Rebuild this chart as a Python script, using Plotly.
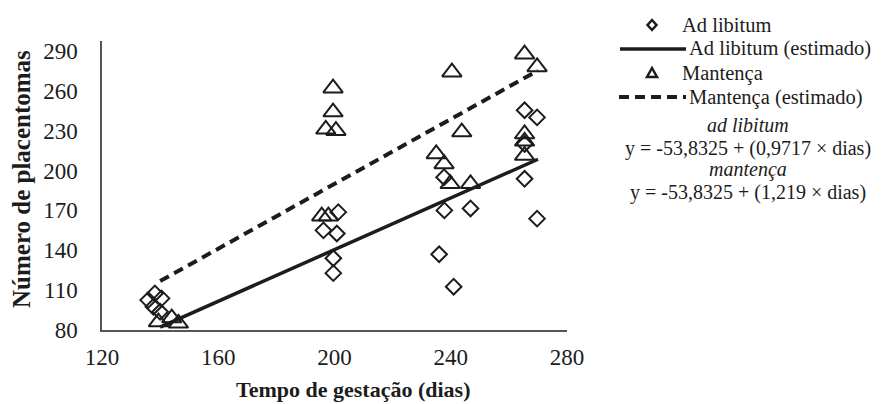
import plotly.graph_objects as go

# ---- data ----
adlib_dias = [138.2, 140.5, 135.9, 137.7, 140.0,
              201.3, 196.2, 200.8, 199.6, 199.6,
              237.7, 237.8, 246.8, 236.0, 241.0,
              265.4, 269.7, 265.4, 265.4, 269.7]
adlib_plac = [107.5, 103.8, 102.5, 97.5, 93.7,
              168.7, 155.0, 152.6, 134.0, 122.8,
              195.0, 170.0, 171.5, 137.0, 112.6,
              245.4, 240.0, 220.0, 193.8, 163.8]

mant_dias = [139.4, 144.0, 146.3,
             199.5, 199.5, 197.0, 200.5, 195.6, 197.9,
             240.4, 243.8, 235.0, 237.7, 239.8, 246.8,
             265.4, 269.7, 265.4, 265.4, 265.4]
mant_plac = [86.0, 89.0, 85.0,
             262.0, 244.0, 231.0, 230.0, 165.7, 165.7,
             274.0, 229.0, 212.5, 205.0, 190.0, 190.0,
             287.6, 278.0, 227.5, 222.0, 211.3]

est_dias = [140, 270]
adlib_est = [82.2, 208.5]
mant_est = [116.8, 275.3]

x_ticks = [120, 160, 200, 240, 280]
y_ticks = [80, 110, 140, 170, 200, 230, 260, 290]

series_names = ["Ad libitum", "Ad libitum (estimado)", "Mantença", "Mantença (estimado)"]
eq_lines = ["ad libitum", "y = -53,8325 + (0,9717 × dias)",
            "mantença", "y = -53,8325 + (1,219 × dias)"]

# ---- layout geometry (screen pixels; page body adds an 8px offset) ----
OFF = 8
W_FIG, H_FIG = 882 - OFF, 404 - OFF
L, R, T, B = 102, 567, 41, 330          # plot area in screen pixels
PW, PH = R - L, B - T

def px(xs):
    return (xs - L) / PW

def py(ys):
    return (B - ys) / PH

SERIF = "Liberation Serif, Times New Roman, serif"
INK = "#1c1c1c"

fig = go.Figure()
fig.add_trace(go.Scatter(x=adlib_dias, y=adlib_plac, mode="markers", name=series_names[0],
                         marker=dict(symbol="diamond-open", size=12, color=INK,
                                     line=dict(width=2, color=INK))))
fig.add_trace(go.Scatter(x=est_dias, y=adlib_est, mode="lines", name=series_names[1],
                         line=dict(color=INK, width=3.5)))
fig.add_trace(go.Scatter(x=mant_dias, y=mant_plac, mode="markers", name=series_names[2],
                         marker=dict(symbol="triangle-up-open", size=17, color=INK,
                                     line=dict(width=2, color=INK))))
fig.add_trace(go.Scatter(x=est_dias, y=mant_est, mode="lines", name=series_names[3],
                         line=dict(color=INK, width=4, dash="10px,6px")))

shapes = []
annotations = []

# custom legend
leg_sym_x = 652
leg_text_x = [680, 687, 680, 687]
leg_y = [25, 49, 73, 97]
cx, cy = leg_sym_x, leg_y[0]
shapes.append(dict(type="path", xref="paper", yref="paper",
                   path=f"M{px(cx)},{py(cy-5)} L{px(cx+4.5)},{py(cy)} L{px(cx)},{py(cy+5)} L{px(cx-4.5)},{py(cy)} Z",
                   line=dict(color=INK, width=2.5)))
shapes.append(dict(type="line", xref="paper", yref="paper",
                   x0=px(620), x1=px(686), y0=py(leg_y[1]), y1=py(leg_y[1]),
                   line=dict(color=INK, width=3.5)))
cx, cy = leg_sym_x, leg_y[2]
shapes.append(dict(type="path", xref="paper", yref="paper",
                   path=f"M{px(cx)},{py(cy-5)} L{px(cx+5)},{py(cy+4)} L{px(cx-5)},{py(cy+4)} Z",
                   line=dict(color=INK, width=2.5)))
shapes.append(dict(type="line", xref="paper", yref="paper",
                   x0=px(619), x1=px(686), y0=py(leg_y[3]), y1=py(leg_y[3]),
                   line=dict(color=INK, width=4, dash="10px,6px")))

for name, tx, ty in zip(series_names, leg_text_x, leg_y):
    annotations.append(dict(text=name, x=px(tx), y=py(ty), xref="paper", yref="paper",
                            xanchor="left", yanchor="middle", showarrow=False,
                            font=dict(family=SERIF, size=20.5, color=INK)))

eq_y = [125, 148, 169, 192]
for i, (txt, ty) in enumerate(zip(eq_lines, eq_y)):
    t = f"<i>{txt}</i>" if i % 2 == 0 else txt
    annotations.append(dict(text=t, x=px(748), y=py(ty), xref="paper", yref="paper",
                            xanchor="center", yanchor="middle", showarrow=False,
                            font=dict(family=SERIF, size=20, color=INK)))

# axis titles
annotations.append(dict(text="<b>Tempo de gestação (dias)</b>", x=px(353), y=py(389),
                        xref="paper", yref="paper", xanchor="center", yanchor="middle",
                        showarrow=False, font=dict(family=SERIF, size=22, color=INK)))
annotations.append(dict(text="<b>Número de placentomas</b>", x=px(21), y=py(179),
                        xref="paper", yref="paper", xanchor="center", yanchor="middle",
                        textangle=-90, showarrow=False,
                        font=dict(family=SERIF, size=25, color=INK)))

fig.update_layout(
    width=W_FIG, height=H_FIG,
    margin=dict(l=L - OFF, r=W_FIG - (R - OFF), t=T - OFF, b=H_FIG - (B - OFF), autoexpand=False),
    paper_bgcolor="white", plot_bgcolor="white",
    showlegend=False,
    shapes=shapes, annotations=annotations,
    font=dict(family=SERIF, color=INK),
)
fig.update_xaxes(range=[120, 280], tickvals=x_ticks, ticktext=[str(v) for v in x_ticks],
                 showgrid=False, zeroline=False, showline=True, linecolor="#555", linewidth=1.5,
                 ticks="", ticklabelstandoff=6,
                 tickfont=dict(family=SERIF, size=23, color=INK))
fig.update_yaxes(range=[80, 297.5], tickvals=y_ticks, ticktext=[str(v) for v in y_ticks],
                 showgrid=False, zeroline=False, showline=True, linecolor="#555", linewidth=1.5,
                 ticks="", ticklabelstandoff=18,
                 tickfont=dict(family=SERIF, size=23, color=INK))

fig.write_html("out.html")
